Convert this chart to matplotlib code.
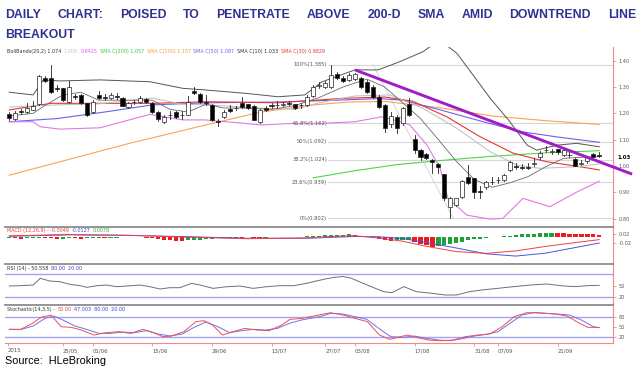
import matplotlib
matplotlib.use('Agg')
import matplotlib.pyplot as plt
from matplotlib.patches import Rectangle

# ---------------- data ----------------
OPEN = [1.196,1.178,1.209,1.206,1.213,1.234,1.335,1.335,1.298,1.295,
        1.244,1.264,1.270,1.238,1.204,1.270,1.261,1.257,1.265,1.259,
        1.225,1.242,1.244,1.254,1.240,1.204,1.168,1.192,1.204,1.192,
        1.194,1.285,1.272,1.243,1.232,1.170,1.187,1.216,1.221,1.240,
        1.234,1.229,1.168,1.221,1.231,1.233,1.233,1.240,1.234,1.230,
        1.232,1.267,1.305,1.301,1.301,1.348,1.335,1.327,1.330,1.333,
        1.320,1.301,1.263,1.232,1.159,1.187,1.162,1.234,1.102,1.060,
        1.044,1.022,1.006,0.968,0.845,0.851,0.883,0.959,0.953,0.903,
        0.921,0.940,0.945,0.946,0.985,0.999,0.995,0.995,1.008,1.034,
        1.059,1.054,1.063,1.041,1.042,1.026,1.008,1.018,1.044,1.040]
HIGH = [1.205,1.209,1.218,1.239,1.245,1.347,1.340,1.383,1.308,1.298,
        1.323,1.273,1.273,1.241,1.249,1.285,1.273,1.277,1.277,1.262,
        1.243,1.250,1.264,1.258,1.243,1.207,1.194,1.207,1.207,1.207,
        1.264,1.301,1.276,1.270,1.235,1.178,1.211,1.232,1.228,1.263,
        1.237,1.232,1.216,1.226,1.239,1.245,1.243,1.245,1.237,1.241,
        1.270,1.306,1.319,1.323,1.385,1.358,1.340,1.352,1.353,1.338,
        1.325,1.306,1.268,1.235,1.205,1.194,1.224,1.257,1.117,1.064,
        1.049,1.028,1.011,0.971,0.882,0.880,0.946,1.003,0.956,0.922,
        0.943,0.959,0.958,0.969,1.020,1.011,1.007,1.011,1.030,1.055,
        1.074,1.066,1.066,1.064,1.055,1.032,1.022,1.038,1.049,1.053]
LOW = [1.175,1.173,1.199,1.203,1.211,1.232,1.319,1.277,1.285,1.247,
       1.241,1.254,1.235,1.188,1.201,1.256,1.250,1.254,1.254,1.226,
       1.222,1.235,1.241,1.241,1.201,1.169,1.165,1.180,1.184,1.180,
       1.192,1.273,1.241,1.233,1.171,1.153,1.184,1.205,1.213,1.222,
       1.216,1.173,1.165,1.209,1.222,1.222,1.226,1.230,1.218,1.222,
       1.228,1.262,1.296,1.298,1.298,1.332,1.319,1.321,1.327,1.298,
       1.279,1.260,1.220,1.130,1.149,1.124,1.157,1.190,1.049,1.022,
       1.028,0.973,0.973,0.872,0.802,0.848,0.880,0.931,0.878,0.878,
       0.912,0.931,0.935,0.943,0.981,0.990,0.988,0.988,1.000,1.028,
       1.053,1.045,1.047,1.038,1.034,0.998,1.003,1.012,1.031,1.034]
CLOSE = [1.181,1.200,1.204,1.221,1.229,1.343,1.323,1.280,1.292,1.250,
         1.301,1.261,1.238,1.194,1.244,1.259,1.258,1.270,1.263,1.229,
         1.238,1.244,1.257,1.244,1.204,1.178,1.187,1.194,1.187,1.194,
         1.244,1.276,1.244,1.240,1.175,1.167,1.206,1.209,1.219,1.225,
         1.219,1.175,1.213,1.213,1.229,1.231,1.234,1.234,1.221,1.232,
         1.263,1.301,1.307,1.314,1.346,1.335,1.323,1.346,1.348,1.301,
         1.282,1.263,1.225,1.143,1.190,1.144,1.219,1.194,1.060,1.035,
         1.031,1.014,0.997,0.877,0.877,0.877,0.943,0.934,0.902,0.901,
         0.940,0.939,0.947,0.965,1.016,0.996,0.993,0.993,1.010,1.049,
         1.061,1.056,1.052,1.060,1.040,1.001,1.010,1.035,1.035,1.038]

BB_UP_X = [0, 4, 5.7, 8.5, 15.2, 23.6, 29.1, 32.8, 39.6, 45.1, 49.6, 52.5, 58, 61.9, 65.5,
           69.4, 72.2, 75.1, 77.8, 80.7, 84, 86.9, 88.5, 91.9, 95.2, 99]
BB_UP_Y = [1.280, 1.270, 1.327, 1.323, 1.327, 1.320, 1.295, 1.289, 1.276, 1.263, 1.270, 1.320,
           1.365, 1.365, 1.396, 1.434, 1.479, 1.428, 1.346, 1.257, 1.168, 1.079, 1.060, 1.079,
           1.086, 1.073]
BB_MID_X = [0, 8, 15, 24, 29, 33, 42, 48, 52, 58, 63.9, 69.4, 75.1, 80.7, 85.2, 89, 95.3, 99]
BB_MID_Y = [1.224, 1.232, 1.236, 1.258, 1.235, 1.232, 1.220, 1.215, 1.240, 1.266, 1.270, 1.219,
            1.143, 1.054, 1.003, 0.991, 0.997, 1.008]
BB_LO_X = [0, 4, 5.2, 8.5, 15.2, 23.6, 29.1, 32.8, 42.4, 47.9, 52.5, 58, 62.5, 65.6, 67.2,
           70.1, 72.3, 73.6, 76.8, 80.7, 82.8, 86.2, 90.7, 95.3, 99]
BB_LO_Y = [1.168, 1.168, 1.149, 1.140, 1.145, 1.196, 1.175, 1.175, 1.156, 1.162, 1.162, 1.168,
           1.187, 1.168, 1.156, 1.079, 0.991, 0.877, 0.813, 0.798, 0.801, 0.877, 0.845, 0.902,
           0.942]
SMA200_X = [51, 58, 65, 72, 80, 90, 99]
SMA200_Y = [0.955, 0.982, 1.005, 1.020, 1.035, 1.050, 1.058]
SMA100_X = [0, 10, 20, 33, 42, 51, 57, 63, 72, 81, 90, 99]
SMA100_Y = [0.965, 1.025, 1.085, 1.156, 1.204, 1.232, 1.243, 1.245, 1.222, 1.190, 1.172, 1.158]
SMA50_X = [0, 8, 16, 24, 33, 45, 55, 62, 66, 72, 80, 86, 92, 99]
SMA50_Y = [1.168, 1.180, 1.205, 1.232, 1.240, 1.243, 1.250, 1.256, 1.250, 1.215, 1.165, 1.130,
           1.110, 1.090]
SMA10_X = [0, 4, 6, 9, 12, 15, 20, 24, 27, 30, 33, 36, 40, 44, 48, 52, 56, 60, 63, 66, 69, 72,
           75, 78, 81, 84, 87, 90, 93, 96, 99]
SMA10_Y = [1.190, 1.200, 1.230, 1.270, 1.280, 1.250, 1.250, 1.250, 1.215, 1.205, 1.235, 1.220,
           1.220, 1.215, 1.230, 1.260, 1.300, 1.330, 1.300, 1.240, 1.180, 1.100, 1.018, 0.949,
           0.919, 0.936, 0.959, 0.997, 1.029, 1.033, 1.036]
SMA30_X = [0, 7, 24, 33, 45, 56, 63, 67.7, 73.4, 79, 84.5, 90.2, 95.8, 99]
SMA30_Y = [1.213, 1.238, 1.238, 1.244, 1.240, 1.257, 1.262, 1.246, 1.187, 1.111, 1.049, 1.016,
           0.997, 0.985]
TREND_X = [58, 104.5]
TREND_Y = [1.365, 0.969]
FAN_X = [61, 74.5]
FAN_Y = [1.385, 0.800]

FIB_LABELS = ['100%(1.385)', '61.8%(1.162)', '50%(1.092)', '38.2%(1.024)', '23.6%(0.939)', '0%(0.802)']
FIB_LEVELS = [1.385, 1.162, 1.092, 1.024, 0.939, 0.802]
PRICE_TICKS = [1.40, 1.30, 1.20, 1.10, 1.00, 0.90, 0.80]
LAST_PRICE = 1.033

HIST = [-1.2, -1.6, -2.0, -1.7, -1.4, -1.1, -1.5, -1.9, -2.2, -2.0,
        -1.8, -1.9, -2.1, -1.8, -1.5, -1.3, -1.4, -1.2, -1.0, -0.8,
        -0.9, -0.7, -0.8, -1.0, -1.5, -2.3, -3.0, -3.6, -4.0, -4.3,
        -3.8, -3.4, -3.0, -2.6, -2.2, -1.8, -1.5, -1.2, -1.0, -1.2,
        -0.9, -1.1, -1.3, -1.0, -0.8, -0.9, -0.6, -0.7, -0.5, -0.3,
        0.2, 0.6, 1.0, 1.3, 1.5, 1.8, 2.0, 2.1, 1.5, 0.5,
        -0.5, -1.5, -2.5, -3.5, -4.2, -3.8, -3.4, -3.2, -5.0, -7.0,
        -8.5, -10.0, -9.5, -8.5, -7.5, -6.2, -5.0, -3.8, -2.8, -2.0,
        -1.3, -0.7, -0.2, 0.4, 1.0, 1.6, 2.1, 2.5, 2.9, 3.2,
        3.5, 3.7, 3.5, 3.3, 3.0, 2.8, 2.6, 2.4, 2.1, 1.9]
MACD_X = [0, 10, 20, 30, 40, 50, 55, 58, 62, 66, 70, 75, 80, 85, 90, 95, 99]
MACD_Y = [0.012, 0.018, 0.014, 0.006, -0.001, 0.003, 0.010, 0.012, 0.002, -0.012, -0.035,
          -0.058, -0.066, -0.055, -0.035, -0.018, -0.005]
SIGNAL_Y = [0.010, 0.016, 0.014, 0.008, 0.001, 0.001, 0.006, 0.009, 0.008, 0.000, -0.018,
            -0.042, -0.068, -0.078, -0.065, -0.040, -0.020]

RSI_X = [0, 1.8, 4.0, 5.2, 6.8, 8.5, 10.2, 11.9, 13.0, 14.7, 16.3, 18.0, 19.7, 21.9, 23.6, 25.3,
         26.9, 28.6, 30.6, 32.0, 34.2, 36.5, 38.7, 40.9, 43.2, 45.4, 47.7, 49.9, 51.5, 53.2,
         54.6, 56.0, 57.3, 60.1, 62.8, 64.2, 66.2, 68.3, 71.0, 73.1, 75.1, 77.2, 79.3, 82.0,
         84.7, 87.5, 90.2, 93.0, 95.0, 97.1, 99]
RSI_Y = [48.6, 49.5, 51.3, 69.2, 62.0, 60.2, 53.0, 49.5, 45.0, 49.5, 51.3, 46.8, 48.6, 51.3,
         46.8, 40.6, 44.1, 44.1, 55.8, 51.3, 42.3, 46.8, 48.6, 42.3, 46.8, 49.5, 49.5, 55.8,
         62.0, 68.0, 72.0, 74.0, 70.0, 51.0, 33.5, 30.8, 47.0, 33.5, 29.0, 24.6, 24.6, 33.5,
         38.0, 42.5, 47.0, 51.4, 54.0, 48.7, 47.0, 49.6, 50.5]
STK_X = [0, 1.9, 3.9, 5.3, 7.0, 8.7, 10.4, 12.1, 14.2, 16.2, 18.3, 20.4, 22.4, 23.8, 25.8, 27.2,
         29.3, 31.3, 32.7, 34.1, 35.8, 37.5, 39.5, 41.6, 43.6, 45.7, 47.1, 49.1, 51.9, 53.9,
         56.0, 58.0, 60.1, 62.1, 63.9, 65.6, 66.9, 68.3, 70.3, 72.4, 74.5, 76.5, 78.6, 80.6,
         82.7, 84.7, 86.8, 88.8, 91.6, 93.6, 95.7, 97.1, 99]
STK_K = [42, 42, 60, 78, 85, 50, 48, 40, 25, 32, 35, 30, 42, 35, 20, 22, 35, 65, 68, 55, 25,
         35, 45, 40, 38, 55, 72, 75, 85, 92, 85, 75, 65, 25, 12, 20, 25, 18, 10, 8, 10, 20,
         25, 28, 50, 80, 92, 92, 88, 82, 60, 48, 48]
STD_X = [0, 2, 4, 6, 7.5, 9, 11, 13, 15, 17, 19, 21, 23, 25, 27, 29, 31, 33, 35, 37, 39, 41, 43,
         45, 47, 49, 52, 54, 56, 58, 60, 62, 64, 66, 68, 70, 72, 74, 76, 78, 80, 82, 84, 86, 88,
         92, 94, 96, 98, 99]
STK_D = [42, 42, 52, 75, 82, 70, 52, 42, 30, 30, 34, 32, 38, 28, 22, 28, 48, 64, 50, 32, 38,
         42, 40, 45, 60, 70, 80, 90, 88, 80, 72, 45, 20, 18, 22, 15, 10, 8, 14, 22, 27, 35, 60,
         85, 92, 88, 85, 70, 50, 47]

DATE_POS = [-0.3, 9, 14, 24, 34, 44, 53, 58, 68, 78, 82, 92]
DATE_LABELS = ['2015', '25/05', '01/06', '15/06', '29/06', '13/07', '27/07', '03/08', '17/08',
               '31/08', '07/09', '21/09']

TITLE_1 = 'DAILY CHART: POISED TO PENETRATE ABOVE 200-D SMA AMID DOWNTREND LINE'
TITLE_2 = 'BREAKOUT'
SOURCE = 'Source:  HLeBroking'

# ---------------- figure ----------------
W, H = 640, 369
fig = plt.figure(figsize=(6.4, 3.69), dpi=100)
fig.patch.set_facecolor('white')
AXRED = '#f08a8a'
LBL = '#555555'
TS = 3.6


def ax_px(l, t, r, b):
    return fig.add_axes([l / W, 1 - b / H, (r - l) / W, (b - t) / H])


def style(ax, top_color=None):
    for s in ['left', 'bottom']:
        ax.spines[s].set_visible(False)
    if top_color:
        ax.spines['top'].set_color(top_color)
        ax.spines['top'].set_linewidth(1.3)
    else:
        ax.spines['top'].set_visible(False)
    ax.spines['right'].set_color(AXRED)
    ax.spines['right'].set_linewidth(0.8)
    ax.set_xlim(-0.72, 101.3)
    ax.set_xticks([])
    ax.yaxis.tick_right()
    ax.tick_params(axis='y', colors=AXRED, labelcolor=LBL, labelsize=TS, length=2.5,
                   width=0.6, pad=1.5)


XL, XR = 5, 613
ax = ax_px(XL, 47, XR, 226.5)
axm = ax_px(XL, 226.5, XR, 264)
axr = ax_px(XL, 264, XR, 304.5)
axs = ax_px(XL, 304.5, XR, 342.7)

style(ax)
ax.set_ylim(0.770, 1.452)
ax.set_yticks(PRICE_TICKS)
ax.set_yticklabels(['%.2f' % v for v in PRICE_TICKS])

# fib lines
for lab, lev in zip(FIB_LABELS, FIB_LEVELS):
    ax.plot([53.5, 101.3], [lev, lev], color='#d6d6d6', lw=0.8, zorder=1)
    ax.text(53.3, lev, lab, ha='right', va='center', fontsize=3.7, color=LBL, zorder=5)

ax.plot(FAN_X, FAN_Y, color='#d0d0d0', lw=0.6, zorder=1)
ax.plot(SMA100_X, SMA100_Y, color='#f5a550', lw=0.8, zorder=2)
ax.plot(SMA200_X, SMA200_Y, color='#4cd64c', lw=0.8, zorder=2)
ax.plot(SMA50_X, SMA50_Y, color='#6f5ff0', lw=0.8, zorder=2)
ax.plot(SMA30_X, SMA30_Y, color='#e83535', lw=0.8, zorder=2)
ax.plot(BB_MID_X, BB_MID_Y, color='#bdbdbd', lw=0.7, zorder=2)
ax.plot(SMA10_X, SMA10_Y, color='#6a6a6a', lw=0.6, zorder=2)
ax.plot(BB_UP_X, BB_UP_Y, color='#555555', lw=0.7, zorder=2)
ax.plot(BB_LO_X, BB_LO_Y, color='#e07ae0', lw=0.8, zorder=2)

# candles
for i, (o, h, l, c) in enumerate(zip(OPEN, HIGH, LOW, CLOSE)):
    ax.plot([i, i], [l, h], color='#222222', lw=0.6, zorder=3)
    bot = min(o, c)
    hgt = max(abs(c - o), 0.0018)
    fc = 'black' if c < o else 'white'
    ax.add_patch(Rectangle((i - 0.34, bot), 0.68, hgt, facecolor=fc, edgecolor='#222222',
                           lw=0.5, zorder=4))

ax.plot(TREND_X, TREND_Y, color='#a11cc4', lw=2.1, zorder=6, clip_on=False,
        solid_capstyle='butt')
ax.text(1.008, LAST_PRICE, '%.2f' % LAST_PRICE, transform=ax.get_yaxis_transform(),
        fontsize=3.9, color='black', va='center', ha='left', fontweight='bold')

# MACD
style(axm, '#8c8c8c')
axm.set_ylim(-27.5, 10)
axm.set_yticks([])
hist_cols = ['#19a33a' if (k == 0 or HIST[k] >= HIST[k - 1]) else '#ea1c1c'
             for k in range(len(HIST))]
axm.bar(range(len(HIST)), HIST, width=0.72, color=hist_cols, zorder=2)
axm2 = axm.twinx()
axm2.set_xlim(-0.72, 101.3)
for s in axm2.spines.values():
    s.set_visible(False)
axm2.set_ylim(-0.1132, 0.0533)
axm2.set_yticks([0.02, -0.02])
axm2.set_yticklabels(['0.02', '-0.02'])
axm2.tick_params(axis='y', colors=AXRED, labelcolor=LBL, labelsize=TS, length=2.5,
                 width=0.6, pad=1.5)
axm2.plot(MACD_X, SIGNAL_Y, color='#5050e6', lw=0.7)
axm2.plot(MACD_X, MACD_Y, color='#ee4040', lw=0.7)

# RSI
style(axr, '#8c8c8c')
axr.set_ylim(-0.9, 107.6)
axr.set_yticks([50, 20])
axr.set_yticklabels(['50', '20'])
for lv in [80, 20]:
    axr.axhline(lv, color='#a3a3f0', lw=1.0, zorder=1)
axr.plot(RSI_X, RSI_Y, color='#707070', lw=0.7, zorder=2)

# Stochastic
style(axs, '#8c8c8c')
axs.spines['bottom'].set_visible(True)
axs.spines['bottom'].set_color(AXRED)
axs.spines['bottom'].set_linewidth(0.8)
axs.set_ylim(2, 116.6)
axs.set_yticks([80, 50, 20])
axs.set_yticklabels(['80', '50', '20'])
for lv in [80, 20]:
    axs.axhline(lv, color='#a3a3f0', lw=1.0, zorder=1)
axs.plot(STD_X, STK_D, color='#7070ee', lw=0.7, zorder=2)
axs.plot(STK_X, STK_K, color='#f05050', lw=0.7, zorder=3)
axs.set_xticks(DATE_POS)
axs.set_xticklabels(DATE_LABELS, ha='left')
axs.tick_params(axis='x', colors=AXRED, labelcolor=LBL, labelsize=TS + 0.3, length=2.5,
                width=0.6, pad=1.5)

# ---------------- texts ----------------
fig.canvas.draw()
R = fig.canvas.get_renderer()


def ptext(x, y, s, **kw):
    return fig.text(x / W, 1 - y / H, s, **kw)


def seq(x, y, parts, size, gap=2.5):
    for s, c in parts:
        t = ptext(x, y, s, color=c, fontsize=size, va='center', ha='left')
        x += t.get_window_extent(R).width + gap


seq(7, 51.5, [('BollBands(20,2) 1.074', '#333333'), ('1.008', '#c8c8c8'), ('0.9425', '#e060e0'),
              ('SMA C(200) 1.057', '#3cc83c'), ('SMA C(100) 1.157', '#f0a040'),
              ('SMA C(50) 1.087', '#6f5ff0'), ('SMA C(10) 1.033', '#333333'),
              ('SMA C(30) 0.9829', '#e83535')], 3.5)
seq(7, 230.8, [('MACD (12,26,9) - -0.0049', '#e84040'), ('-0.0127', '#4040e0'),
               ('0.0078', '#30b030')], 3.5)
seq(7, 268.5, [('RSI (14) - 50.558', '#333333'), ('80.00  20.00', '#4040e0')], 3.5)
seq(7, 309.5, [('Stochastic(14,3,5) -', '#333333'), ('50.00', '#e84040'),
               ('47.003  80.00  20.00', '#4040e0')], 3.5)

# title (justified first line)
TCOL = '#2e3192'
words = TITLE_1.split()
tw = []
objs = []
for wd in words:
    t = ptext(0, 15, wd, fontsize=8.8, fontweight='bold', color=TCOL, family='Liberation Sans',
              va='center', ha='left')
    objs.append(t)
    tw.append(t.get_window_extent(R).width)
x0, x1 = 5, 636
gap = (x1 - x0 - sum(tw)) / (len(words) - 1)
x = x0
for t, wd in zip(objs, tw):
    t.set_x(x / W)
    x += wd + gap
ptext(5, 35, TITLE_2, fontsize=8.8, fontweight='bold', color=TCOL, family='Liberation Sans',
      va='center', ha='left')
ptext(5, 360.5, SOURCE, fontsize=7.8, color='black', family='Liberation Sans', va='center',
      ha='left')

fig.savefig('out.png', dpi=100, facecolor='white')
